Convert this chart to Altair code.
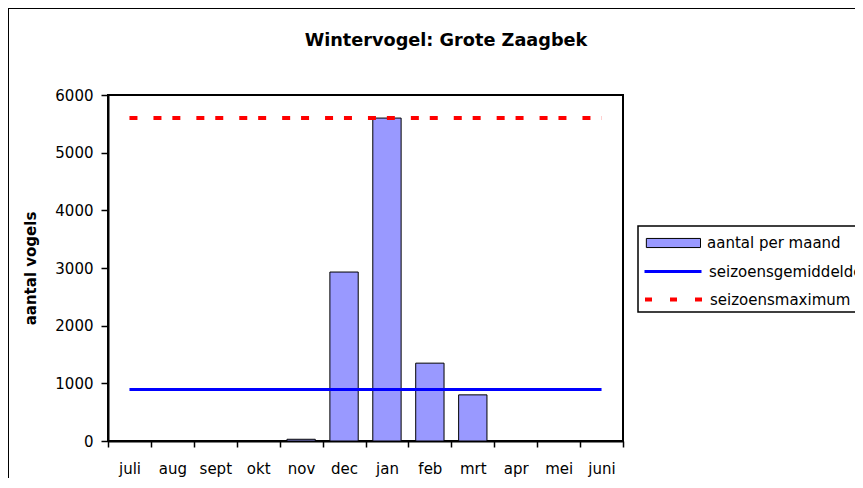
import altair as alt
import pandas as pd

# ---- data ----
TITLE = "Wintervogel: Grote Zaagbek"
Y_TITLE = "aantal vogels"
months = ["juli", "aug", "sept", "okt", "nov", "dec", "jan", "feb", "mrt", "apr", "mei", "juni"]
counts = [0, 0, 0, 0, 30, 2930, 5600, 1350, 800, 0, 0, 0]
season_mean = 895
season_max = 5600
y_ticks = [0, 1000, 2000, 3000, 4000, 5000, 6000]
series_names = ["aantal per maand", "seizoensgemiddelde", "seizoensmaximum"]
series_colors = ["#9999FF", "#0000FF", "#FF0000"]

df = pd.DataFrame({
    "maand": months,
    "aantal": counts,
    "gem": [season_mean] * len(months),
    "max": [season_max] * len(months),
    "s1": [series_names[0]] * len(months),
    "s2": [series_names[1]] * len(months),
    "s3": [series_names[2]] * len(months),
})

FONT = "DejaVu Sans"

x_enc = alt.X(
    "maand:N", sort=months,
    scale=alt.Scale(paddingInner=0, paddingOuter=0),
    axis=alt.Axis(title=None, labelAngle=0, tickBand="extent", tickSize=6, tickWidth=1.5,
                  tickColor="black", domainColor="black", domainWidth=2,
                  labelFont=FONT, labelFontSize=15, labelColor="black", labelPadding=14),
)
y_scale = alt.Scale(domain=[0, 6000], nice=False)

base = alt.Chart(df)

leg_common = dict(title=None, orient="none", padding=0, labelFont=FONT, labelFontSize=15,
                  labelColor="black", labelOffset=6, symbolSize=3249)

bars = base.mark_bar(stroke="black", strokeWidth=1, width=alt.RelativeBandSize(0.66)).encode(
    x=x_enc,
    y=alt.Y("aantal:Q", scale=y_scale,
            axis=alt.Axis(values=y_ticks, format="d", grid=False, tickSize=7, tickWidth=1.5,
                          tickColor="black", domainColor="black", domainWidth=2,
                          labelFont=FONT, labelFontSize=15, labelColor="black", labelPadding=8,
                          title=Y_TITLE, titleFont=FONT, titleFontSize=15, titleFontWeight="bold",
                          titleColor="black", titleAngle=270, titleX=-73, titleY=173,
                          titleAlign="center", titleBaseline="alphabetic")),
    fill=alt.Fill("s1:N", scale=alt.Scale(domain=[series_names[0]], range=[series_colors[0]]),
                  legend=alt.Legend(legendX=535, legendY=119,
                                    symbolType="M-0.9,-0.16H1V0.16H-0.9Z",
                                    symbolStrokeColor="black", symbolStrokeWidth=1,
                                    **leg_common)),
).transform_filter("datum.aantal > 0")

mean_line = base.mark_line(strokeWidth=3).encode(
    x=x_enc,
    y=alt.Y("gem:Q", scale=y_scale),
    stroke=alt.Stroke("s2:N", scale=alt.Scale(domain=[series_names[1]], range=[series_colors[1]]),
                      legend=alt.Legend(legendX=535, legendY=146.5, symbolType="M-1,0H1",
                                        symbolStrokeWidth=3, **leg_common)),
)

max_line = base.mark_line(strokeWidth=4, strokeDash=[8, 16, 8, 10.9]).encode(
    x=x_enc,
    y=alt.Y("max:Q", scale=y_scale),
    color=alt.Color("s3:N", scale=alt.Scale(domain=[series_names[2]], range=[series_colors[2]]),
                    legend=alt.Legend(legendX=535, legendY=174, symbolType="M-1,0H1",
                                      symbolStrokeWidth=4, symbolDash=[7, 18], **leg_common)),
)

one = alt.Chart(pd.DataFrame({"k": [0]}))
outer_border = one.mark_rect(filled=False, stroke="black", strokeWidth=2).encode(
    x=alt.value(-100), x2=alt.value(900), y=alt.value(-87), y2=alt.value(600))
legend_box = one.mark_rect(fill="white", stroke="black", strokeWidth=1.5).encode(
    x=alt.value(530), x2=alt.value(900), y=alt.value(131), y2=alt.value(217))
title = one.mark_text(text=TITLE, font=FONT, fontSize=17.7, fontWeight="bold",
                      align="center", baseline="alphabetic", color="black").encode(
    x=alt.value(338), y=alt.value(-49))

chart = alt.layer(outer_border, legend_box, title, bars, mean_line, max_line).properties(
    width=515, height=346,
    autosize=alt.AutoSizeParams(type="none"),
    padding={"left": 100, "top": 87, "right": 232, "bottom": 37},
    background="white",
).configure_view(stroke="black", strokeWidth=2)

chart.save("out.html", embed_options={"renderer": "svg", "actions": False})
